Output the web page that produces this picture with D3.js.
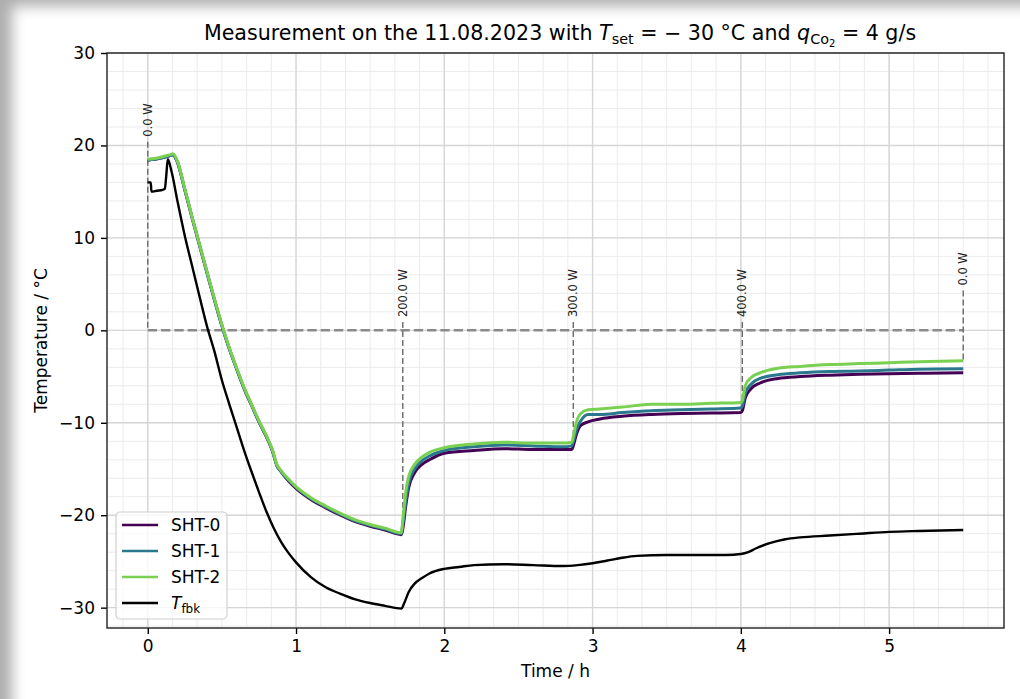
<!DOCTYPE html>
<html>
<head>
<meta charset="utf-8">
<script src="https://cdn.jsdelivr.net/npm/d3@7"></script>
<style>
body { margin: 0; background: #fff; }
#wrap { position: relative; width: 1020px; height: 699px; overflow: hidden; }
#shade { position: absolute; left: 0; top: 0; width: 1020px; height: 699px; pointer-events: none;
         box-shadow: inset 18px 12px 14px -6px rgba(0, 0, 0, 0.32); }
svg text { font-family: "DejaVu Sans", sans-serif; fill: #000; }
</style>
</head>
<body>
<div id="wrap">
  <svg id="chart" width="1020" height="699"></svg>
  <div id="shade"></div>
</div>
<script>
/*    ========    DATA    =========    */

// time in hours, shared by the three SHT sensors
var shtTime = [0, 0.08, 0.15, 0.17, 0.2, 0.25, 0.3, 0.4, 0.5, 0.55,
    0.6, 0.65, 0.7, 0.75, 0.8, 0.84, 0.87, 0.9, 0.95, 1.0,
    1.1, 1.2, 1.3, 1.4, 1.5, 1.6, 1.71, 1.72, 1.74, 1.76,
    1.8, 1.85, 1.9, 2.0, 2.2, 2.4, 2.6, 2.8, 2.86, 2.87,
    2.89, 2.92, 2.97, 3.05, 3.2, 3.4, 3.6, 3.8, 4.0, 4.01,
    4.03, 4.07, 4.13, 4.25, 4.4, 4.6, 4.8, 5.0, 5.2, 5.5];

var sht0 = [18.4, 18.6, 18.9, 19.0, 18.2, 15.2, 12.1, 6.2, 0.5, -2.0,
    -4.2, -6.3, -8.1, -9.9, -11.5, -13.0, -14.6, -15.3, -16.3, -17.1,
    -18.3, -19.2, -20.0, -20.7, -21.2, -21.6, -22.1, -21.5, -19.0, -17.0,
    -15.4, -14.5, -14.0, -13.3, -13.0, -12.8, -12.9, -12.9, -12.9, -12.5,
    -11.3, -10.3, -9.9, -9.6, -9.3, -9.1, -9.0, -8.95, -8.9, -8.7,
    -7.3, -6.3, -5.7, -5.2, -5.0, -4.85, -4.75, -4.7, -4.65, -4.6];

var sht1 = [18.4, 18.6, 18.9, 19.0, 18.2, 15.2, 12.1, 6.2, 0.5, -2.0,
    -4.2, -6.3, -8.1, -9.9, -11.5, -13.0, -14.6, -15.3, -16.2, -17.0,
    -18.2, -19.1, -19.9, -20.6, -21.1, -21.5, -22.0, -21.0, -18.5, -16.5,
    -15.0, -14.1, -13.6, -13.0, -12.6, -12.4, -12.5, -12.6, -12.5, -12.0,
    -10.8, -9.8, -9.1, -9.1, -8.9, -8.7, -8.6, -8.5, -8.4, -8.2,
    -6.8, -5.8, -5.2, -4.8, -4.6, -4.45, -4.4, -4.3, -4.2, -4.15];

var sht2 = [18.5, 18.7, 19.0, 19.1, 18.3, 15.3, 12.2, 6.3, 0.6, -1.9,
    -4.1, -6.2, -8.0, -9.8, -11.4, -12.9, -14.5, -15.2, -16.1, -16.9,
    -18.1, -19.0, -19.8, -20.5, -21.0, -21.4, -21.9, -20.5, -17.5, -15.8,
    -14.5, -13.7, -13.2, -12.7, -12.3, -12.1, -12.2, -12.2, -12.1, -11.5,
    -10.0, -9.0, -8.6, -8.5, -8.3, -8.0, -8.0, -7.9, -7.8, -7.6,
    -6.0, -5.1, -4.6, -4.1, -3.9, -3.7, -3.6, -3.5, -3.4, -3.3];

var fbkTime = [0, 0.02, 0.025, 0.06, 0.1, 0.115, 0.125, 0.135, 0.16, 0.2,
    0.25, 0.3, 0.35, 0.4, 0.45, 0.5, 0.55, 0.6, 0.65, 0.7,
    0.75, 0.8, 0.85, 0.9, 0.95, 1.0, 1.1, 1.2, 1.3, 1.4,
    1.5, 1.6, 1.71, 1.73, 1.76, 1.8, 1.85, 1.9, 2.0, 2.1,
    2.2, 2.4, 2.6, 2.8, 2.9, 3.0, 3.1, 3.2, 3.3, 3.5,
    3.7, 3.9, 4.0, 4.05, 4.1, 4.2, 4.3, 4.4, 4.6, 4.8,
    5.0, 5.2, 5.5];

var fbkTemp = [16.0, 16.0, 15.0, 15.1, 15.2, 15.3, 16.8, 18.5, 17.2, 14.0,
    10.2, 6.9, 3.6, 0.4, -2.3, -5.4, -8.0, -10.5, -13.0, -15.3,
    -17.5, -19.6, -21.4, -22.9, -24.1, -25.1, -26.7, -27.8, -28.5, -29.1,
    -29.5, -29.8, -30.1, -29.5, -28.3, -27.4, -26.8, -26.3, -25.8, -25.6,
    -25.4, -25.3, -25.4, -25.5, -25.4, -25.2, -24.9, -24.6, -24.4, -24.3,
    -24.3, -24.3, -24.2, -24.0, -23.6, -23.0, -22.6, -22.4, -22.2, -22.0,
    -21.8, -21.7, -21.6];

// heater power steps
var powerTime = [0, 1.72, 2.87, 4.01, 5.5];
var powerLabel = ["0.0 W", "200.0 W", "300.0 W", "400.0 W", "0.0 W"];
var powerTop = [20.4, 0.9, 0.9, 0.9, 4.3];
var powerBottom = [0, -21.0, -12.0, -7.6, -3.3];

var seriesNames = ["SHT-0", "SHT-1", "SHT-2"];
var seriesColors = ["#440154", "#2a788e", "#7ad151"];

var xTicks = [0, 1, 2, 3, 4, 5];
var yTicks = [-30, -20, -10, 0, 10, 20, 30];

/*    ========    SETTINGS    =========    */

var svg = d3.select('#chart');

var plotLeft = 107, plotRight = 1004, plotTop = 53, plotBottom = 628;

var xscale = d3.scaleLinear().domain([-0.275, 5.775]).range([plotLeft, plotRight]);
var yscale = d3.scaleLinear().domain([-32.2, 30]).range([plotBottom, plotTop]);

var defs = svg.append("defs");
defs.append("clipPath")
    .attr("id", "mask")
    .append("rect")
    .attr("x", plotLeft)
    .attr("y", plotTop)
    .attr("width", plotRight - plotLeft)
    .attr("height", plotBottom - plotTop);

/*    ========    FUNCTIONS    =========    */

function drawGrid() {
    var g = svg.append("g").attr("class", "grid");

    // minor grid: 10 min and 2 degC
    var minorX = d3.range(-1, 35).map(function(k) { return k / 6; });
    var minorY = d3.range(-32, 31, 2);

    g.selectAll("line.minx").data(minorX).enter().append("line")
        .attr("x1", function(d) { return xscale(d); })
        .attr("x2", function(d) { return xscale(d); })
        .attr("y1", plotTop).attr("y2", plotBottom)
        .attr("stroke", "#ececec").attr("stroke-width", 1);

    g.selectAll("line.miny").data(minorY).enter().append("line")
        .attr("y1", function(d) { return yscale(d); })
        .attr("y2", function(d) { return yscale(d); })
        .attr("x1", plotLeft).attr("x2", plotRight)
        .attr("stroke", "#ececec").attr("stroke-width", 1);

    g.selectAll("line.majx").data(xTicks).enter().append("line")
        .attr("x1", function(d) { return xscale(d); })
        .attr("x2", function(d) { return xscale(d); })
        .attr("y1", plotTop).attr("y2", plotBottom)
        .attr("stroke", "#d6d6d6").attr("stroke-width", 1.4);

    g.selectAll("line.majy").data(yTicks).enter().append("line")
        .attr("y1", function(d) { return yscale(d); })
        .attr("y2", function(d) { return yscale(d); })
        .attr("x1", plotLeft).attr("x2", plotRight)
        .attr("stroke", "#d6d6d6").attr("stroke-width", 1.4);
}

function drawPower() {
    var g = svg.append("g").attr("clip-path", "url(#mask)");

    // zero-power baseline
    g.append("line")
        .attr("x1", xscale(powerTime[0]))
        .attr("x2", xscale(powerTime[powerTime.length - 1]))
        .attr("y1", yscale(0)).attr("y2", yscale(0))
        .attr("stroke", "#8a8a8a").attr("stroke-width", 2.5)
        .attr("stroke-dasharray", "9.3,4");

    g.selectAll("line.step").data(powerTime).enter().append("line")
        .attr("x1", function(d) { return xscale(d); })
        .attr("x2", function(d) { return xscale(d); })
        .attr("y1", function(d, i) { return yscale(powerTop[i]); })
        .attr("y2", function(d, i) { return yscale(powerBottom[i]); })
        .attr("stroke", "#6a6a6a").attr("stroke-width", 1.4)
        .attr("stroke-dasharray", "6,3");

    g.selectAll("text.step").data(powerTime).enter().append("text")
        .attr("transform", function(d, i) {
            return "translate(" + xscale(d) + "," + (yscale(powerTop[i]) - 5) + ") rotate(-90)";
        })
        .attr("dy", "0.36em")
        .style("font-size", "11.5px")
        .style("fill", "#222")
        .text(function(d, i) { return powerLabel[i]; });
}

function drawLines() {
    var g = svg.append("g").attr("clip-path", "url(#mask)");

    var line = d3.line()
        .x(function(d) { return xscale(d[0]); })
        .y(function(d) { return yscale(d[1]); })
        .curve(d3.curveMonotoneX);

    [sht0, sht1, sht2].forEach(function(vals, k) {
        var pts = shtTime.map(function(t, i) { return [t, vals[i]]; });
        g.append("path")
            .datum(pts)
            .attr("d", line)
            .attr("fill", "none")
            .attr("stroke", seriesColors[k])
            .attr("stroke-width", 3)
            .attr("stroke-linejoin", "round");
    });

    var fbk = fbkTime.map(function(t, i) { return [t, fbkTemp[i]]; });
    g.append("path")
        .datum(fbk)
        .attr("d", line)
        .attr("fill", "none")
        .attr("stroke", "#000")
        .attr("stroke-width", 2.4)
        .attr("stroke-linejoin", "round");
}

function drawAxes() {
    var xAxis = d3.axisBottom(xscale).tickValues(xTicks).tickSize(6).tickPadding(6)
        .tickFormat(d3.format("d"));
    var yAxis = d3.axisLeft(yscale).tickValues(yTicks).tickSize(6).tickPadding(6)
        .tickFormat(d3.format("d"));

    var gx = svg.append("g")
        .attr("transform", "translate(0," + plotBottom + ")")
        .call(xAxis);
    var gy = svg.append("g")
        .attr("transform", "translate(" + plotLeft + ",0)")
        .call(yAxis);

    [gx, gy].forEach(function(g) {
        g.select(".domain").remove();
        g.selectAll(".tick line").attr("stroke", "#000").attr("stroke-width", 1.4);
        g.selectAll(".tick text").style("font-size", "17px")
            .style("font-family", "DejaVu Sans, sans-serif").attr("fill", "#000");
    });

    svg.append("rect")
        .attr("x", plotLeft).attr("y", plotTop)
        .attr("width", plotRight - plotLeft)
        .attr("height", plotBottom - plotTop)
        .attr("fill", "none").attr("stroke", "#222").attr("stroke-width", 1.4);

    svg.append("text")
        .attr("x", (plotLeft + plotRight) / 2)
        .attr("y", 677)
        .attr("text-anchor", "middle")
        .style("font-size", "17px")
        .text("Time / h");

    svg.append("text")
        .attr("transform", "translate(47," + (plotTop + plotBottom) / 2 + ") rotate(-90)")
        .attr("text-anchor", "middle")
        .style("font-size", "17px")
        .text("Temperature / °C");
}

function drawTitle() {
    var t = svg.append("text")
        .attr("x", 560)
        .attr("y", 40)
        .attr("text-anchor", "middle")
        .style("font-size", "20.6px");

    t.append("tspan").text("Measurement on the 11.08.2023 with ");
    t.append("tspan").style("font-style", "italic").text("T");
    t.append("tspan").style("font-size", "14.4px").attr("dy", 4).text("set");
    t.append("tspan").attr("dy", -4).text(" = \u2212 30 °C and ");
    t.append("tspan").style("font-style", "italic").text("q");
    t.append("tspan").style("font-size", "14.4px").attr("dy", 4).text("Co");
    t.append("tspan").style("font-size", "10px").attr("dy", 3).text("2");
    t.append("tspan").attr("dy", -7).text(" = 4 g/s");
}

function drawLegend() {
    var g = svg.append("g").attr("transform", "translate(116,512)");

    g.append("rect")
        .attr("width", 111).attr("height", 107)
        .attr("rx", 4).attr("ry", 4)
        .attr("fill", "#fff").attr("fill-opacity", 0.8)
        .attr("stroke", "#d0d0d0").attr("stroke-width", 1.2);

    var names = seriesNames.concat(["fbk"]);
    var colors = seriesColors.concat(["#000"]);

    names.forEach(function(name, i) {
        var cy = 13 + i * 26;
        g.append("line")
            .attr("x1", 6).attr("x2", 42)
            .attr("y1", cy).attr("y2", cy)
            .attr("stroke", colors[i]).attr("stroke-width", 2.6);
        var txt = g.append("text")
            .attr("x", 55).attr("y", cy + 6)
            .style("font-size", "17px");
        if (i < 3) {
            txt.text(name);
        } else {
            txt.append("tspan").style("font-style", "italic").text("T");
            txt.append("tspan").style("font-size", "12px").attr("dy", 4).text("fbk");
        }
    });
}

/*    ========    RUN    =========    */

drawGrid();
drawPower();
drawLines();
drawAxes();
drawTitle();
drawLegend();
</script>
</body>
</html>
